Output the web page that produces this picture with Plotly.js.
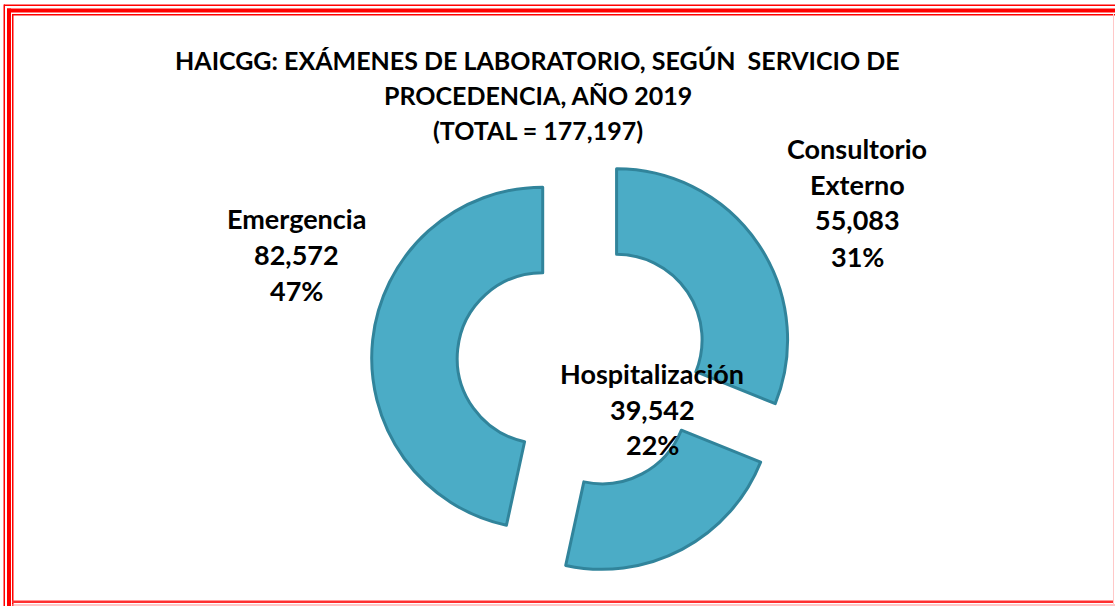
<!DOCTYPE html>
<html>
<head>
<meta charset="utf-8">
<script src="https://cdn.plot.ly/plotly-3.0.1.min.js"></script>
<style>html,body{margin:0;padding:0;background:#fff;}#chart{width:1115px;height:606px;}</style>
</head>
<body>
<div id="chart"></div>
<script>
// ---- data ----
const categories = ["Consultorio Externo", "Hospitalización", "Emergencia"];
const labelLines = [["Consultorio", "Externo"], ["Hospitalización"], ["Emergencia"]];
const values = [55083, 39542, 82572];
const titleLines = ["HAICGG: EXÁMENES DE LABORATORIO, SEGÚN  SERVICIO DE", "PROCEDENCIA, AÑO 2019"];

// ---- helpers ----
const W = 1115, H = 606;
const fmt = n => n.toLocaleString("en-US");
const total = values.reduce((a, b) => a + b, 0);
const px = x => x / W;
const py = y => 1 - y / H;
const FONT = "Lato, 'Open Sans', sans-serif";

const annotations = [];
function addLines(lines, cx, y0, step, size) {
  lines.forEach((t, i) => annotations.push({
    xref: "paper", yref: "paper", x: px(cx), y: py(y0 + i * step),
    xanchor: "center", yanchor: "middle", showarrow: false,
    text: "<b>" + t + "</b>", font: {family: FONT, size: size, color: "#000"}
  }));
}
// title
addLines(titleLines.concat(["(TOTAL = " + fmt(total) + ")"]), 537.5, 60, 35, 25);
// slice labels
const labelPos = [[857, 148], [652, 373], [296, 218]];
categories.forEach((c, i) => {
  const pct = Math.round(values[i] / total * 100) + "%";
  addLines(labelLines[i].concat([fmt(values[i]), pct]), labelPos[i][0], labelPos[i][1], 36, 27);
});

// border shapes (pixel rects)
const shapes = [];
function rect(x0, y0, x1, y1, color) {
  shapes.push({type: "rect", xref: "paper", yref: "paper",
    x0: px(x0), x1: px(x1), y0: py(y1), y1: py(y0),
    fillcolor: color, line: {width: 0}, layer: "above"});
}
const RED = "#ff0000";
// top
rect(4, 4.5, W, 6, RED);
rect(7, 8.5, W, 12.5, RED);
rect(12, 14, W, 15.5, RED);
// left
rect(3.5, 4.5, 5, H, RED);
rect(7, 8.5, 11, H, RED);
rect(12, 14, 13.5, H, RED);
// bottom
rect(12, 600.5, W - 2, 603, "#ff3030");
rect(12, 604.5, W, 605.5, "#ff9090");
// right
rect(1113, 14, 1114, 605, "#ffc8c8");

// pie geometry
const R = 171, pull = 0.237, cx = 583, cy = 362.5;
const half = R * (1 + pull);

const trace = {
  type: "pie",
  labels: categories,
  values: values,
  sort: false,
  direction: "clockwise",
  rotation: 0,
  hole: 0.5,
  pull: [pull, pull, pull],
  textinfo: "none",
  hoverinfo: "label+value+percent",
  marker: {colors: ["#4BACC6", "#4BACC6", "#4BACC6"], line: {color: "#31849B", width: 3}},
  domain: {x: [px(cx - half), px(cx + half)], y: [py(cy + half), py(cy - half)]},
  showlegend: false
};

Plotly.newPlot("chart", [trace], {
  width: W, height: H,
  margin: {l: 0, r: 0, t: 0, b: 0, pad: 0},
  paper_bgcolor: "#fff",
  showlegend: false,
  annotations: annotations,
  shapes: shapes
}, {displayModeBar: false, staticPlot: true});
</script>
</body>
</html>
